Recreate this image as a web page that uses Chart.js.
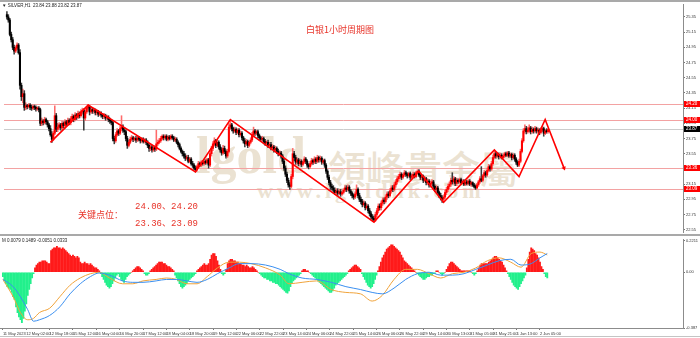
<!DOCTYPE html>
<html><head><meta charset="utf-8">
<script src="https://cdn.jsdelivr.net/npm/chart.js@4.4.1/dist/chart.umd.min.js"></script>
<style>
html,body{margin:0;padding:0;background:#fff;width:700px;height:338px;overflow:hidden;}
body{position:relative;}
canvas{position:absolute;left:0;z-index:1;}
.t{position:absolute;white-space:nowrap;line-height:1;}
.wm{z-index:0;color:#ebe2d2;}
.fr{position:absolute;z-index:2;background:#a9a9a9;}
.an{z-index:3;color:#e8342a;}
</style></head><body>
<div class="t wm" style="left:196px;top:126px;font:bold 52px 'Liberation Serif',serif;">lgold</div>
<div class="t wm" style="left:328px;top:139px;font:500 38px 'Noto Sans CJK TC',sans-serif;">領峰貴金屬</div>
<div class="t wm" style="left:257px;top:178px;font:bold 22px 'Liberation Serif',serif;letter-spacing:4px;">www.lgoldhk.com</div>
<canvas id="c1" width="700" height="236" style="top:0"></canvas>
<canvas id="c2" width="700" height="102" style="top:236px"></canvas>
<div class="fr" style="left:0;top:0;width:700px;height:2px;"></div>
<div class="fr" style="left:0;top:234px;width:700px;height:2px;"></div>
<div class="fr" style="left:0;top:336px;width:700px;height:1px;background:#c4c4c4;"></div>
<div class="t" style="z-index:3;left:2px;top:3px;font:4.5px 'Liberation Sans',sans-serif;color:#222;">▼ SILVER,H1&nbsp; 23.84 23.88 23.82 23.87</div>
<div class="t" style="z-index:3;left:2px;top:238px;font:4.5px 'Liberation Sans',sans-serif;color:#222;">M 0.0079 0.1489 -0.0051 0.0333</div>
<div class="t an" style="left:306px;top:23px;font:9px 'Noto Sans CJK SC',sans-serif;">白银1小时周期图</div>
<div class="t an" style="left:78px;top:208px;font:9px 'Noto Sans CJK SC',sans-serif;">关键点位：</div>
<div class="t an" style="left:135px;top:199px;font:9px 'Liberation Mono','Noto Sans CJK SC',monospace;">24.00、24.20</div>
<div class="t an" style="left:135px;top:216px;font:9px 'Liberation Mono','Noto Sans CJK SC',monospace;">23.36、23.09</div>
<script>
const opens = [
25.38,25.35,25.31,25.12,25.05,24.95,24.90,24.94,24.98,24.88,
24.45,24.30,24.34,24.16,24.18,24.17,24.19,24.16,24.15,24.17,
24.16,24.14,24.15,24.13,23.95,23.98,23.96,24.00,23.97,23.93,
23.88,23.80,23.74,23.82,24.05,23.87,23.90,23.93,23.89,23.95,
23.92,23.97,23.94,23.99,23.96,24.01,24.04,24.00,24.06,24.03,
24.08,24.05,24.10,24.12,24.02,24.10,24.15,24.17,24.10,24.13,
24.11,24.12,24.09,24.10,24.07,24.08,24.06,24.04,24.05,24.02,
24.03,24.00,23.98,23.96,23.75,23.72,23.80,23.85,23.82,23.88,
23.90,23.86,23.84,23.75,23.66,23.70,23.74,23.76,23.74,23.75,
23.73,23.76,23.74,23.72,23.74,23.71,23.73,23.70,23.66,23.62,
23.64,23.60,23.63,23.61,23.68,23.70,23.72,23.75,23.78,23.76,
23.78,23.74,23.77,23.75,23.78,23.76,23.73,23.74,23.70,23.67,
23.62,23.58,23.55,23.52,23.49,23.50,23.45,23.48,23.42,23.40,
23.36,23.34,23.38,23.42,23.40,23.44,23.42,23.45,23.43,23.47,
23.40,23.55,23.62,23.68,23.72,23.66,23.70,23.64,23.60,23.56,
23.62,23.58,23.52,23.58,23.90,23.93,23.88,23.85,23.87,23.83,
23.86,23.80,23.82,23.76,23.72,23.68,23.71,23.66,23.70,23.73,
23.80,23.85,23.82,23.84,23.79,23.76,23.74,23.75,23.71,23.69,
23.70,23.66,23.67,23.63,23.64,23.60,23.62,23.58,23.55,23.56,
23.52,23.45,23.36,23.28,23.20,23.14,23.12,23.25,23.55,23.50,
23.44,23.47,23.42,23.45,23.41,23.44,23.48,23.45,23.40,23.38,
23.42,23.46,23.44,23.48,23.45,23.50,23.47,23.49,23.44,23.46,
23.40,23.32,23.24,23.17,23.12,23.10,23.07,23.04,23.06,23.03,
23.05,23.02,23.04,23.07,23.10,23.08,23.11,23.06,23.03,23.00,
22.98,23.02,23.08,23.00,22.95,22.92,22.88,22.90,22.84,22.86,
22.80,22.76,22.72,22.70,22.68,22.75,22.80,22.86,22.84,22.90,
22.94,22.92,22.98,23.02,23.00,23.06,23.10,23.08,23.14,23.18,
23.22,23.25,23.28,23.24,23.27,23.30,23.28,23.26,23.29,23.24,
23.26,23.28,23.25,23.30,23.32,23.27,23.24,23.25,23.20,23.22,
23.17,23.19,23.14,23.16,23.18,23.12,23.08,23.10,23.04,23.00,
22.97,22.95,22.98,23.04,23.08,23.12,23.15,23.20,23.18,23.22,
23.16,23.20,23.18,23.21,23.17,23.19,23.15,23.18,23.16,23.19,
23.15,23.17,23.14,23.12,23.10,23.14,23.18,23.22,23.20,23.26,
23.30,23.27,23.33,23.38,23.35,23.42,23.50,23.55,23.52,23.54,
23.51,23.53,23.50,23.52,23.55,23.53,23.56,23.52,23.54,23.50,
23.53,23.48,23.44,23.40,23.45,23.58,23.72,23.85,23.88,23.84,
23.86,23.89,23.84,23.87,23.85,23.88,23.85,23.86,23.83,23.86,
23.88,23.82,23.85,23.84];
const highs = [
25.42,25.38,25.33,25.15,25.08,24.98,24.97,25.01,25.00,24.92,
24.48,24.40,24.38,24.22,24.20,24.21,24.21,24.19,24.19,24.19,
24.18,24.17,24.17,24.15,24.02,24.00,24.03,24.02,23.99,23.95,
23.92,23.84,23.85,24.18,24.08,23.95,23.96,23.95,23.98,23.97,
24.00,23.99,24.02,24.01,24.04,24.07,24.06,24.09,24.08,24.11,
24.10,24.13,24.15,24.14,24.13,24.17,24.20,24.18,24.16,24.15,
24.15,24.14,24.13,24.12,24.11,24.10,24.08,24.08,24.07,24.06,
24.05,24.02,24.00,23.98,23.78,23.83,23.88,23.87,23.91,24.05,
23.93,23.89,23.86,23.78,23.73,23.77,23.79,23.78,23.77,23.78,
23.78,23.78,23.76,23.76,23.76,23.75,23.75,23.72,23.68,23.67,
23.66,23.66,23.65,23.86,23.73,23.75,23.78,23.80,23.80,23.80,
23.80,23.79,23.79,23.80,23.80,23.78,23.77,23.76,23.72,23.69,
23.64,23.60,23.58,23.55,23.53,23.53,23.50,23.50,23.45,23.42,
23.39,23.40,23.45,23.44,23.46,23.46,23.48,23.47,23.49,23.49,
23.58,23.65,23.71,23.76,23.74,23.73,23.72,23.67,23.63,23.66,
23.65,23.60,23.61,23.95,23.99,23.95,23.90,23.90,23.89,23.88,
23.88,23.85,23.84,23.78,23.75,23.74,23.73,23.72,23.76,23.83,
23.90,23.87,23.86,23.86,23.81,23.78,23.78,23.77,23.74,23.72,
23.73,23.70,23.70,23.67,23.66,23.65,23.64,23.61,23.59,23.58,
23.54,23.48,23.39,23.31,23.23,23.17,23.28,23.62,23.58,23.53,
23.50,23.49,23.48,23.47,23.46,23.51,23.50,23.47,23.42,23.45,
23.49,23.48,23.51,23.50,23.53,23.52,23.52,23.51,23.48,23.48,
23.42,23.34,23.27,23.20,23.15,23.13,23.10,23.09,23.09,23.08,
23.08,23.06,23.09,23.13,23.13,23.14,23.13,23.08,23.05,23.02,
23.05,23.14,23.10,23.03,22.98,22.95,22.93,22.92,22.89,22.88,
22.83,22.79,22.75,22.73,22.78,22.83,22.89,22.89,22.93,22.97,
22.97,23.01,23.05,23.05,23.09,23.13,23.13,23.17,23.21,23.25,
23.28,23.31,23.30,23.29,23.33,23.32,23.30,23.31,23.31,23.28,
23.31,23.30,23.32,23.34,23.34,23.29,23.28,23.27,23.25,23.24,
23.22,23.21,23.19,23.21,23.20,23.14,23.13,23.12,23.06,23.03,
23.00,23.01,23.07,23.11,23.15,23.18,23.23,23.30,23.25,23.24,
23.23,23.22,23.23,23.23,23.21,23.21,23.20,23.20,23.21,23.21,
23.19,23.18,23.16,23.14,23.16,23.20,23.25,23.38,23.28,23.33,
23.32,23.36,23.41,23.40,23.45,23.53,23.59,23.57,23.57,23.56,
23.56,23.55,23.54,23.57,23.57,23.58,23.58,23.56,23.56,23.55,
23.55,23.50,23.46,23.48,23.61,23.75,23.88,23.93,23.91,23.90,
23.93,23.91,23.90,23.89,23.91,23.90,23.89,23.88,23.89,23.91,
23.90,23.87,23.88,23.88];
const lows = [
25.32,25.28,25.10,25.02,24.92,24.86,24.88,24.92,24.86,24.40,
24.25,24.22,24.12,24.13,24.14,24.15,24.13,24.12,24.13,24.13,
24.11,24.12,24.10,23.92,23.92,23.93,23.94,23.94,23.90,23.85,
23.78,23.70,23.72,23.80,23.84,23.84,23.87,23.86,23.87,23.89,
23.89,23.91,23.92,23.93,23.93,23.98,23.97,23.98,24.00,24.01,
24.02,24.03,24.07,23.86,23.99,24.08,24.12,24.06,24.08,24.08,
24.08,24.06,24.06,24.04,24.05,24.03,24.01,24.01,23.99,24.00,
23.97,23.95,23.93,23.72,23.68,23.70,23.78,23.79,23.80,23.85,
23.83,23.80,23.72,23.62,23.64,23.68,23.72,23.71,23.72,23.70,
23.71,23.72,23.69,23.70,23.69,23.69,23.67,23.63,23.58,23.59,
23.57,23.58,23.58,23.59,23.66,23.68,23.70,23.73,23.73,23.74,
23.72,23.72,23.73,23.73,23.74,23.71,23.71,23.68,23.64,23.60,
23.56,23.52,23.49,23.46,23.47,23.43,23.43,23.40,23.37,23.34,
23.31,23.32,23.36,23.38,23.38,23.40,23.40,23.41,23.42,23.36,
23.38,23.52,23.59,23.65,23.63,23.64,23.61,23.57,23.53,23.54,
23.55,23.49,23.50,23.56,23.87,23.85,23.82,23.83,23.80,23.81,
23.77,23.78,23.73,23.69,23.64,23.66,23.63,23.64,23.68,23.71,
23.77,23.79,23.80,23.76,23.73,23.71,23.72,23.68,23.66,23.67,
23.63,23.64,23.60,23.61,23.57,23.58,23.55,23.52,23.53,23.49,
23.42,23.33,23.25,23.17,23.11,23.08,23.10,23.22,23.46,23.41,
23.41,23.39,23.40,23.38,23.39,23.42,23.42,23.37,23.35,23.36,
23.40,23.41,23.42,23.42,23.43,23.44,23.45,23.41,23.42,23.37,
23.29,23.21,23.14,23.08,23.07,23.04,23.01,23.01,23.00,23.01,
22.99,23.00,23.02,23.05,23.05,23.06,23.03,23.00,22.97,22.95,
22.96,23.00,22.97,22.92,22.89,22.85,22.86,22.81,22.82,22.77,
22.73,22.69,22.67,22.66,22.66,22.72,22.77,22.81,22.81,22.87,
22.89,22.90,22.95,22.97,22.98,23.03,23.05,23.06,23.11,23.15,
23.19,23.22,23.21,23.22,23.25,23.25,23.23,23.24,23.21,23.22,
23.23,23.23,23.23,23.28,23.25,23.21,23.21,23.17,23.18,23.14,
23.14,23.11,23.11,23.13,23.09,23.05,23.05,23.01,22.97,22.94,
22.91,22.93,22.96,23.01,23.05,23.09,23.12,23.15,23.15,23.13,
23.13,23.16,23.16,23.15,23.15,23.13,23.13,23.14,23.14,23.13,
23.12,23.12,23.10,23.08,23.09,23.12,23.16,23.18,23.18,23.24,
23.24,23.25,23.31,23.32,23.33,23.40,23.48,23.49,23.50,23.48,
23.49,23.48,23.48,23.50,23.51,23.51,23.50,23.50,23.47,23.48,
23.45,23.41,23.38,23.38,23.43,23.56,23.70,23.82,23.81,23.82,
23.83,23.81,23.82,23.82,23.83,23.82,23.82,23.80,23.81,23.84,
23.78,23.80,23.82,23.82];
const closes = [
25.35,25.31,25.12,25.05,24.95,24.90,24.94,24.98,24.88,24.45,
24.30,24.34,24.16,24.18,24.17,24.19,24.16,24.15,24.17,24.16,
24.14,24.15,24.13,23.95,23.98,23.96,24.00,23.97,23.93,23.88,
23.80,23.74,23.82,24.05,23.87,23.90,23.93,23.89,23.95,23.92,
23.97,23.94,23.99,23.96,24.01,24.04,24.00,24.06,24.03,24.08,
24.05,24.10,24.12,24.02,24.10,24.15,24.17,24.10,24.13,24.11,
24.12,24.09,24.10,24.07,24.08,24.06,24.04,24.05,24.02,24.03,
24.00,23.98,23.96,23.75,23.72,23.80,23.85,23.82,23.88,23.90,
23.86,23.84,23.75,23.66,23.70,23.74,23.76,23.74,23.75,23.73,
23.76,23.74,23.72,23.74,23.71,23.73,23.70,23.66,23.62,23.64,
23.60,23.63,23.61,23.68,23.70,23.72,23.75,23.78,23.76,23.78,
23.74,23.77,23.75,23.78,23.76,23.73,23.74,23.70,23.67,23.62,
23.58,23.55,23.52,23.49,23.50,23.45,23.48,23.42,23.40,23.36,
23.34,23.38,23.42,23.40,23.44,23.42,23.45,23.43,23.47,23.40,
23.55,23.62,23.68,23.72,23.66,23.70,23.64,23.60,23.56,23.62,
23.58,23.52,23.58,23.90,23.93,23.88,23.85,23.87,23.83,23.86,
23.80,23.82,23.76,23.72,23.68,23.71,23.66,23.70,23.73,23.80,
23.85,23.82,23.84,23.79,23.76,23.74,23.75,23.71,23.69,23.70,
23.66,23.67,23.63,23.64,23.60,23.62,23.58,23.55,23.56,23.52,
23.45,23.36,23.28,23.20,23.14,23.12,23.25,23.55,23.50,23.44,
23.47,23.42,23.45,23.41,23.44,23.48,23.45,23.40,23.38,23.42,
23.46,23.44,23.48,23.45,23.50,23.47,23.49,23.44,23.46,23.40,
23.32,23.24,23.17,23.12,23.10,23.07,23.04,23.06,23.03,23.05,
23.02,23.04,23.07,23.10,23.08,23.11,23.06,23.03,23.00,22.98,
23.02,23.08,23.00,22.95,22.92,22.88,22.90,22.84,22.86,22.80,
22.76,22.72,22.70,22.68,22.75,22.80,22.86,22.84,22.90,22.94,
22.92,22.98,23.02,23.00,23.06,23.10,23.08,23.14,23.18,23.22,
23.25,23.28,23.24,23.27,23.30,23.28,23.26,23.29,23.24,23.26,
23.28,23.25,23.30,23.32,23.27,23.24,23.25,23.20,23.22,23.17,
23.19,23.14,23.16,23.18,23.12,23.08,23.10,23.04,23.00,22.97,
22.95,22.98,23.04,23.08,23.12,23.15,23.20,23.18,23.22,23.16,
23.20,23.18,23.21,23.17,23.19,23.15,23.18,23.16,23.19,23.15,
23.17,23.14,23.12,23.10,23.14,23.18,23.22,23.20,23.26,23.30,
23.27,23.33,23.38,23.35,23.42,23.50,23.55,23.52,23.54,23.51,
23.53,23.50,23.52,23.55,23.53,23.56,23.52,23.54,23.50,23.53,
23.48,23.44,23.40,23.45,23.58,23.72,23.85,23.88,23.84,23.86,
23.89,23.84,23.87,23.85,23.88,23.85,23.86,23.83,23.86,23.88,
23.82,23.85,23.84,23.87];
const hist = [
-0.03,-0.06,-0.08,-0.10,-0.11,-0.12,-0.14,-0.17,-0.19,-0.24,
-0.28,-0.31,-0.33,-0.35,-0.32,-0.27,-0.22,-0.16,-0.12,-0.08,
-0.04,-0.01,0.03,0.05,0.06,0.07,0.07,0.08,0.08,0.08,
0.07,0.06,0.06,0.15,0.16,0.17,0.17,0.18,0.17,0.17,
0.16,0.17,0.16,0.15,0.14,0.13,0.12,0.11,0.12,0.11,
0.10,0.11,0.10,0.07,0.06,0.06,0.07,0.06,0.06,0.05,
0.06,0.05,0.04,0.03,0.03,0.02,0.01,-0.01,-0.03,-0.05,
-0.07,-0.09,-0.10,-0.11,-0.10,-0.08,-0.06,-0.04,-0.02,-0.01,
-0.03,-0.05,-0.06,-0.07,-0.05,-0.03,-0.02,-0.01,0.00,0.01,
0.02,0.03,0.04,0.04,0.03,0.02,0.01,-0.01,-0.02,-0.02,
-0.01,0.01,0.02,0.03,0.04,0.05,0.06,0.07,0.07,0.07,
0.06,0.06,0.05,0.04,0.04,0.03,0.02,0.01,-0.02,-0.04,
-0.06,-0.08,-0.10,-0.11,-0.10,-0.09,-0.08,-0.06,-0.05,-0.04,
-0.03,-0.02,-0.01,0.01,0.02,0.03,0.04,0.05,0.06,0.05,
0.05,0.06,0.09,0.12,0.13,0.13,0.11,0.08,0.05,0.02,
-0.01,-0.02,-0.01,0.02,0.06,0.08,0.09,0.09,0.08,0.08,
0.07,0.07,0.06,0.06,0.05,0.05,0.04,0.05,0.04,0.03,
0.03,0.04,0.03,0.02,0.01,0.00,-0.01,-0.02,-0.03,-0.04,
-0.04,-0.05,-0.05,-0.06,-0.06,-0.07,-0.07,-0.08,-0.08,-0.09,
-0.10,-0.11,-0.12,-0.13,-0.14,-0.145,-0.13,-0.10,-0.08,-0.06,
-0.05,-0.04,-0.03,-0.02,-0.01,0.01,0.02,0.02,0.01,0.01,
0.00,-0.01,-0.02,-0.03,-0.04,-0.05,-0.06,-0.07,-0.08,-0.09,
-0.10,-0.11,-0.12,-0.13,-0.14,-0.14,-0.13,-0.11,-0.09,-0.08,
-0.07,-0.06,-0.05,-0.04,-0.03,-0.02,-0.01,0.01,0.02,0.03,
0.04,0.05,0.05,0.04,0.03,0.02,-0.01,-0.03,-0.05,-0.07,
-0.09,-0.10,-0.11,-0.10,-0.08,-0.05,-0.02,0.01,0.04,0.07,
0.10,0.12,0.14,0.16,0.17,0.18,0.19,0.19,0.18,0.17,
0.16,0.15,0.14,0.12,0.10,0.08,0.07,0.06,0.05,0.04,
0.03,0.02,0.01,0.00,-0.01,-0.02,-0.03,-0.04,-0.05,-0.05,
-0.04,-0.03,-0.03,-0.02,-0.02,-0.01,-0.01,0.01,0.01,0.00,
-0.01,-0.02,-0.01,0.00,0.02,0.04,0.06,0.07,0.07,0.06,
0.05,0.04,0.03,0.02,0.01,0.01,0.01,0.01,0.01,0.01,
0.01,0.00,-0.01,-0.02,-0.01,0.01,0.03,0.05,0.06,0.06,
0.06,0.06,0.06,0.07,0.08,0.09,0.10,0.11,0.11,0.10,
0.09,0.08,0.07,0.05,0.03,0.01,-0.01,-0.03,-0.05,-0.07,
-0.09,-0.10,-0.11,-0.12,-0.10,-0.08,-0.06,-0.04,-0.02,0.03,
0.09,0.14,0.17,0.16,0.15,0.13,0.12,0.10,0.07,0.04,
0.02,-0.01,-0.03,-0.04];
const macdIdx = [0,7,12,17,21,25,32,39,46,53,60,66,73,82,89,96,105,112,119,126,133,140,147,155,162,170,180,190,196,205,215,225,235,245,253,260,268,276,284,292,300,308,316,324,332,340,348,355,362,368,373];
const macdFast = [-0.05,-0.17,-0.28,-0.33,-0.32,-0.28,-0.25,-0.17,-0.09,-0.04,-0.01,0.00,-0.04,-0.08,-0.08,-0.06,-0.05,-0.04,-0.05,-0.08,-0.08,-0.03,0.03,0.07,0.07,0.06,0.03,-0.02,-0.08,-0.07,-0.06,-0.12,-0.14,-0.15,-0.20,-0.16,-0.05,0.02,0.02,-0.01,-0.04,-0.01,0.00,0.03,0.08,0.10,0.07,0.035,0.13,0.14,0.12];
const macdSlow = [-0.05,-0.10,-0.17,-0.26,-0.34,-0.33,-0.30,-0.24,-0.15,-0.08,-0.03,-0.005,-0.02,-0.06,-0.07,-0.07,-0.06,-0.05,-0.05,-0.06,-0.07,-0.05,-0.01,0.03,0.06,0.06,0.05,0.02,-0.01,-0.04,-0.05,-0.07,-0.10,-0.12,-0.14,-0.15,-0.11,-0.05,-0.01,0.00,-0.02,-0.02,-0.01,0.02,0.05,0.08,0.09,0.05,0.06,0.10,0.13];
const zigIdx = [30,56,130,154,253,284,301,336,353,371,384];
const zigVals = [23.70,24.19,23.31,24.00,22.65,23.32,22.91,23.60,23.25,24.00,23.36];
const levels = [24.20,24.00,23.36,23.09];
const lastPrice = 23.87;
const priceTicks = [25.35,25.15,24.95,24.75,24.55,24.35,24.15,23.95,23.75,23.55,23.35,23.15,22.95,22.75,22.55];
const macdTicks = [0.2211,0,-0.387];
const macdTickLabels = ['0.2211','0.00','-0.387'];
const labelIdx = [0,16,32,48,64,80,96,112,128,144,160,176,192,208,224,240,256,272,288,304,320,336,352,368];
const xLabels = ['11 May 2023','12 May 02:00','12 May 18:00','15 May 12:00','16 May 04:00','16 May 20:00','17 May 12:00','18 May 04:00','18 May 20:00','19 May 12:00','22 May 06:00','22 May 22:00','23 May 14:00','24 May 06:00','24 May 22:00','25 May 14:00','26 May 06:00','26 May 22:00','29 May 14:00','30 May 13:00','31 May 05:00','31 May 21:00','1 Jun 13:00','2 Jun 05:00'];

const N = closes.length;
if (opens.length!==N||highs.length!==N||lows.length!==N||hist.length!==N||macdFast.length!==macdIdx.length||macdSlow.length!==macdIdx.length)
  throw new Error('len '+[opens.length,highs.length,lows.length,closes.length,hist.length,macdIdx.length,macdFast.length,macdSlow.length].join(','));

const XMIN=-2, XMAX=466;
const tickFont = {family:"'Liberation Sans', sans-serif", size:4};
const bodyCol = closes.map((c,i)=> c>opens[i]?'#ff0000':(c<opens[i]?'#000000':'#55dd55'));
const wickCol = closes.map((c,i)=> c>opens[i]?'#ff6a6a':(c<opens[i]?'#3a3a3a':'#55dd55'));

const levelPlugin = {
  id:'levels',
  beforeDatasetsDraw(chart){
    const {ctx, chartArea:a, scales:{y}} = chart;
    ctx.save(); ctx.lineWidth=1;
    ctx.strokeStyle='#cccccc';
    let p=Math.round(y.getPixelForValue(lastPrice))+0.5;
    ctx.beginPath(); ctx.moveTo(a.left,p); ctx.lineTo(a.right,p); ctx.stroke();
    ctx.strokeStyle='#f3a2a2';
    levels.forEach(v=>{const q=Math.round(y.getPixelForValue(v))+0.5; ctx.beginPath(); ctx.moveTo(a.left,q); ctx.lineTo(a.right,q); ctx.stroke();});
    ctx.restore();
  },
  afterDraw(chart){
    const {ctx, chartArea:a, scales:{y}} = chart;
    ctx.save(); ctx.font="4.5px 'Liberation Sans', sans-serif"; ctx.textBaseline='middle';
    const box=(v,bg)=>{const q=Math.round(y.getPixelForValue(v)); ctx.fillStyle=bg; ctx.fillRect(a.right+1,q-3,16,6); ctx.fillStyle='#ffffff'; ctx.fillText(v.toFixed(2),a.right+3,q);};
    levels.forEach(v=>box(v,'#ff0000'));
    box(lastPrice,'#000000');
    ctx.restore();
  }
};

new Chart(document.getElementById('c1'), {
  type:'bar',
  data:{datasets:[
    {type:'line', order:0, data:zigIdx.map((x,k)=>({x, y:zigVals[k]})), borderColor:'#ff0000', borderWidth:1.6, tension:0,
     pointRadius:zigIdx.map((x,k)=>k===zigIdx.length-1?2.6:0), pointStyle:'triangle', rotation:159,
     pointBackgroundColor:'#ff0000', pointBorderColor:'#ff0000', pointBorderWidth:0},
    {type:'bar', order:1, grouped:false, data:closes.map((c,i)=>({x:i, y:[opens[i], c]})), backgroundColor:bodyCol, barThickness:1.4, minBarLength:1},
    {type:'bar', order:2, grouped:false, data:closes.map((c,i)=>({x:i, y:[lows[i], highs[i]]})), backgroundColor:wickCol, barThickness:0.9}
  ]},
  options:{
    responsive:false, animation:false, devicePixelRatio:1, events:[],
    layout:{padding:{left:0,right:0,top:2,bottom:3}},
    plugins:{legend:{display:false}, tooltip:{enabled:false}},
    scales:{
      x:{type:'linear', min:XMIN, max:XMAX, offset:false, display:false},
      y:{position:'right', min:22.52, max:25.52,
         afterFit(s){s.width=17;},
         afterBuildTicks(s){s.ticks=priceTicks.map(v=>({value:v}));},
         ticks:{font:tickFont, color:'#333', padding:1, callback:v=>Number(v).toFixed(2)},
         grid:{drawOnChartArea:false, tickLength:2, color:'#777'},
         border:{display:true, color:'#8c8c8c'}}
    }
  },
  plugins:[levelPlugin]
});

new Chart(document.getElementById('c2'), {
  type:'bar',
  data:{datasets:[
    {type:'line', order:0, data:macdIdx.map((x,k)=>({x, y:macdSlow[k]})), borderColor:'#3a8ff0', borderWidth:1, pointRadius:0, cubicInterpolationMode:'monotone'},
    {type:'line', order:0, data:macdIdx.map((x,k)=>({x, y:macdFast[k]})), borderColor:'#f0a33a', borderWidth:1, pointRadius:0, cubicInterpolationMode:'monotone'},
    {type:'bar', order:1, grouped:false, data:hist.map((v,i)=>({x:i, y:v})), backgroundColor:hist.map(v=>v>=0?'#ff1a1a':'#22f08c'), barThickness:1.2}
  ]},
  options:{
    responsive:false, animation:false, devicePixelRatio:1, events:[],
    layout:{padding:{left:0,right:0,top:3,bottom:0}},
    plugins:{legend:{display:false}, tooltip:{enabled:false}},
    scales:{
      x:{type:'linear', min:XMIN, max:XMAX, offset:false, position:'bottom',
         afterFit(s){s.height=10;},
         afterBuildTicks(s){s.ticks=labelIdx.map(v=>({value:v}));},
         ticks:{font:tickFont, color:'#333', autoSkip:false, maxRotation:0, minRotation:0, align:'start', padding:1,
                callback:(v,i)=>xLabels[i]},
         grid:{drawOnChartArea:false, offset:false, tickLength:2, color:'#777'},
         border:{display:true, color:'#8c8c8c'}},
      y:{position:'right', min:-0.387, max:0.228,
         afterFit(s){s.width=17;},
         afterBuildTicks(s){s.ticks=macdTicks.map(v=>({value:v}));},
         ticks:{font:tickFont, color:'#333', padding:1, callback:(v,i)=>macdTickLabels[i]},
         grid:{drawOnChartArea:false, tickLength:2, color:'#777'},
         border:{display:true, color:'#8c8c8c'}}
    }
  }
});
</script>
</body></html>
